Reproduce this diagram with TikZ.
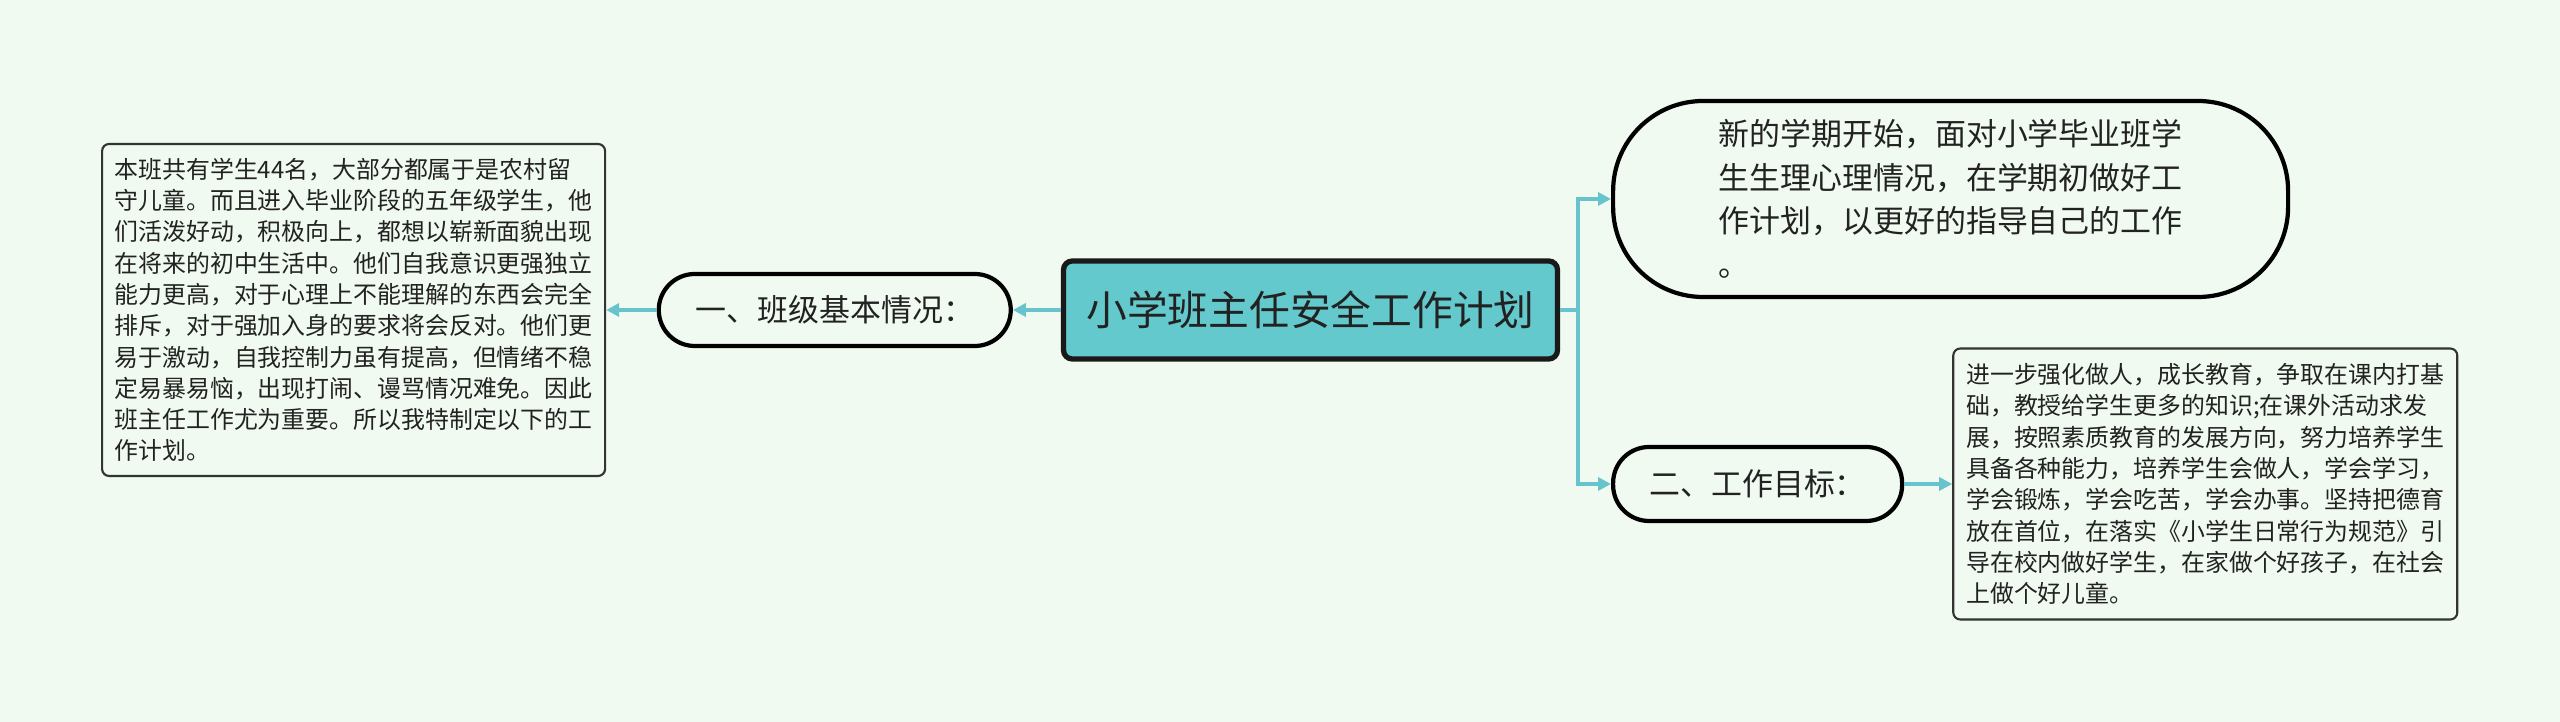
\documentclass[tikz,border=0pt]{standalone}
\usepackage{fontspec}
\newfontfamily\cjk{Noto Sans CJK SC}
\usepackage{tikz}
\usetikzlibrary{arrows.meta,positioning,calc}
\definecolor{bgmint}{RGB}{240,250,240}
\definecolor{rootfill}{RGB}{99,201,205}
\definecolor{linkc}{RGB}{104,196,204}
\definecolor{inkc}{RGB}{34,34,34}

\begin{document}
\begin{tikzpicture}[
  font=\cjk,
  root/.style={draw=black!90, line width=1.5pt, fill=rootfill, rounded corners=2.5pt, minimum width=49.4mm, minimum height=9.8mm, inner sep=0pt, text=inkc, font=\cjk\fontsize{11.6pt}{14pt}\selectfont},
  pill/.style={draw=black, line width=1.2pt, fill=bgmint, rounded corners=3.6mm, inner sep=0pt, text=inkc, font=\cjk\fontsize{8.8pt}{12.4pt}\selectfont},
  memo/.style={draw=black!80, line width=0.6pt, fill=bgmint, rounded corners=2pt, align=left, inner sep=0pt, text=inkc, font=\cjk\fontsize{6.8pt}{8.9pt}\selectfont},
  link/.style={-{Triangle[length=1.3mm, width=1.3mm]}, line width=1.1pt, linkc}]
\fill[bgmint] (0,0) rectangle (25.6,7.22);
\useasboundingbox (0,0) rectangle (25.6,7.22);
% centre
\node[root] (title) at (13.105,4.12) {小学班主任安全工作计划};
% left branch
\node[pill, minimum width=35.2mm, minimum height=7.2mm, left=4.8mm of title] (basic) {一、班级基本情况：};
\node[memo, minimum width=50.3mm, minimum height=33.2mm, left=5.05mm of basic] (basicnote) {本班共有学生44名，大部分都属于是农村留\\守儿童。而且进入毕业阶段的五年级学生，他\\们活泼好动，积极向上，都想以崭新面貌出现\\在将来的初中生活中。他们自我意识更强独立\\能力更高，对于心理上不能理解的东西会完全\\排斥，对于强加入身的要求将会反对。他们更\\易于激动，自我控制力虽有提高，但情绪不稳\\定易暴易恼，出现打闹、谩骂情况难免。因此\\班主任工作尤为重要。所以我特制定以下的工\\作计划。};
% right branch
\node[pill, rounded corners=9mm, minimum width=67.5mm, minimum height=19.6mm, align=left, anchor=west] (plan) at (16.11,5.23) {新的学期开始，面对小学毕业班学\\生生理心理情况，在学期初做好工\\作计划，以更好的指导自己的工作\\。};
\node[pill, minimum width=28.9mm, minimum height=7.4mm, anchor=west] (goal) at (16.11,2.38) {二、工作目标：};
\node[memo, minimum width=50.4mm, minimum height=27.1mm, right=4.8mm of goal] (goalnote) {进一步强化做人，成长教育，争取在课内打基\\础，教授给学生更多的知识;在课外活动求发\\展，按照素质教育的发展方向，努力培养学生\\具备各种能力，培养学生会做人，学会学习，\\学会锻炼，学会吃苦，学会办事。坚持把德育\\放在首位，在落实《小学生日常行为规范》引\\导在校内做好学生，在家做个好孩子，在社会\\上做个好儿童。};
% connectors
\coordinate[right=1.8mm of title] (fork);
\draw[link] (title) -- (basic);
\draw[link] (basic) -- (basicnote);
\draw[line width=1.1pt, linkc] (title.east) -- (fork);
\draw[link] (fork) |- (plan.west);
\draw[link] (fork) |- (goal.west);
\draw[link] (goal) -- (goalnote);
\end{tikzpicture}
\end{document}
